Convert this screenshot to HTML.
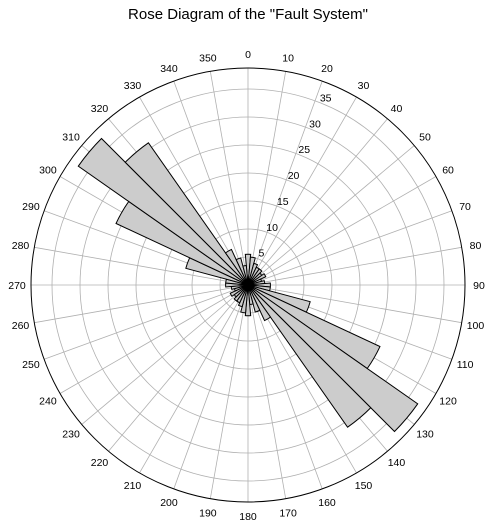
<!DOCTYPE html>
<html><head><meta charset="utf-8"><style>
html,body{margin:0;padding:0;background:#fff;}
svg{display:block;font-family:"Liberation Sans","DejaVu Sans",sans-serif;}
</style></head><body>
<svg id="chart" width="493" height="529" viewBox="0 0 493 529" xmlns="http://www.w3.org/2000/svg">
<rect width="493" height="529" fill="#fff"/>
<text x="248" y="19" text-anchor="middle" font-size="15" fill="#000">Rose Diagram of the "Fault System"</text>
<g id="grid"></g><g id="bars"></g><g id="labels"></g>
</svg>
<script>
const binAngles = [0,10,20,30,40,50,60,70,80,90,100,110,120,130,140,150,160,170,180,190,200,210,220,230,240,250,260,270,280,290,300,310,320,330,340,350];
const halfCounts = [5.5,5,4,3.5,3.5,3,3.5,2.5,3,4,4,11.5,26,37,31,7,5,3.5];
const counts = halfCounts.concat(halfCounts);
const radialTicks = [5,10,15,20,25,30,35];
const angleTicks = [0,10,20,30,40,50,60,70,80,90,100,110,120,130,140,150,160,170,180,190,200,210,220,230,240,250,260,270,280,290,300,310,320,330,340,350];
const rMax = 38.75;

const NS="http://www.w3.org/2000/svg";
const cx=248, cy=285, R=217;
function rs(v){return v/rMax*R;}
function pt(deg,r){const a=deg*Math.PI/180;return [cx+r*Math.sin(a), cy-r*Math.cos(a)];}
function mk(tag,attrs,parent){const e=document.createElementNS(NS,tag);for(const k in attrs)e.setAttribute(k,attrs[k]);parent.appendChild(e);return e;}
const grid=document.getElementById('grid'), bars=document.getElementById('bars'), labels=document.getElementById('labels');

radialTicks.forEach(t=>{
  const c=mk('circle',{cx:cx,cy:cy,r:rs(t),fill:'none',stroke:'#b0b0b0','stroke-width':0.8},grid);
  
  
  const p=pt(22.5,rs(t)+7);
  const tx=mk('text',{x:p[0],y:p[1]+4,'text-anchor':'middle','font-size':10.5,fill:'#000'},labels);
  tx.textContent=t;
  
  
});
angleTicks.forEach(a=>{
  const p=pt(a,R);
  const l=mk('line',{x1:cx,y1:cy,x2:p[0],y2:p[1],stroke:'#b0b0b0','stroke-width':0.8},grid);
  
  
  const q=pt(a,R+14);
  const tx=mk('text',{x:q[0],y:q[1]+4,'text-anchor':'middle','font-size':10.5,fill:'#000'},labels);
  tx.textContent=a;
  
  
});
binAngles.forEach((a,i)=>{
  const r=rs(counts[i]);
  const p1=pt(a-5,r), p2=pt(a+5,r);
  const d=`M${cx},${cy} L${p1[0]},${p1[1]} A${r},${r} 0 0 1 ${p2[0]},${p2[1]} Z`;
  const b=mk('path',{d:d,fill:'#cccccc',stroke:'#000','stroke-width':1,'stroke-linejoin':'miter'},bars);
  
  
});
const o=mk('circle',{cx:cx,cy:cy,r:R,fill:'none',stroke:'#000','stroke-width':1},bars);


</script>
</body></html>
